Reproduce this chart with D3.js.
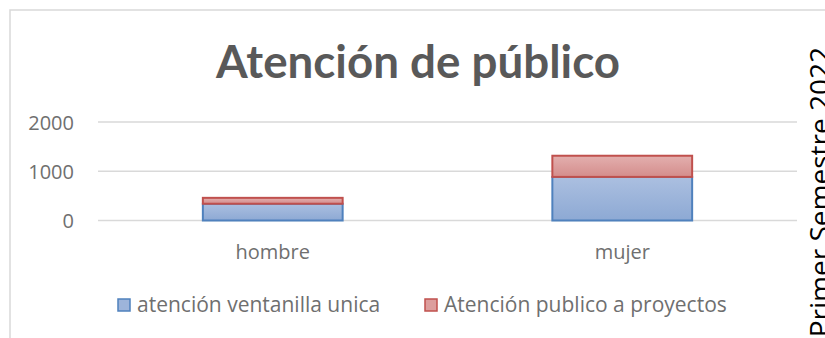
<!DOCTYPE html>
<html>
<head>
<meta charset="utf-8">
<script src="https://cdn.jsdelivr.net/npm/d3@7"></script>
<style>
  html, body { margin: 0; padding: 0; background: #fff; }
  svg { display: block; }
</style>
</head>
<body>
<svg id="chart" width="825" height="338"></svg>
<script>
// Data
const categories = ["hombre", "mujer"];
const seriesNames = ["atención ventanilla unica", "Atención publico a proyectos"];
const ventanilla = [340, 885];
const proyectos = [120, 430];
const yTicks = [0, 1000, 2000];
const title = "Atención de público";
const sideLabel = "Primer Semestre 2022";

const svg = d3.select("#chart");
const W = 825, H = 338;

// Chart frame
svg.append("path")
  .attr("d", `M10,${H + 2} L10,10 L${W + 2},10`)
  .attr("fill", "none")
  .attr("stroke", "#d9d9d9")
  .attr("stroke-width", 1.5);

// Gradients for the bar fills
const defs = svg.append("defs");
function grad(id, top, bottom) {
  const g = defs.append("linearGradient").attr("id", id)
    .attr("x1", 0).attr("y1", 0).attr("x2", 0).attr("y2", 1);
  g.append("stop").attr("offset", "0%").attr("stop-color", top);
  g.append("stop").attr("offset", "100%").attr("stop-color", bottom);
}
grad("gBlue", "#abbfe0", "#8da9d4");
grad("gRed", "#e3afae", "#d48d8c");

const seriesStyle = [
  { fill: "url(#gBlue)", stroke: "#4f81bd", legendFill: "#9db4da" },
  { fill: "url(#gRed)", stroke: "#c0504d", legendFill: "#dc9e9d" }
];

// Scales
const x = d3.scaleBand().domain(categories).range([98, 797]).padding(0);
const y = d3.scaleLinear().domain([0, 2000]).range([220.5, 122]);

// Gridlines
svg.append("g").selectAll("line").data(yTicks).join("line")
  .attr("x1", 98).attr("x2", 797)
  .attr("y1", d => y(d)).attr("y2", d => y(d))
  .attr("stroke", "#d9d9d9").attr("stroke-width", 1.5);

// Y axis labels
const yAxis = d3.axisLeft(y).tickValues(yTicks).tickSize(0).tickPadding(0).tickFormat(d3.format("d"));
const yg = svg.append("g").attr("transform", "translate(74,0)").call(yAxis);
yg.select(".domain").remove();
yg.selectAll("text")
  .attr("font-family", "'Open Sans', sans-serif")
  .attr("font-size", 20)
  .attr("fill", "#6f6f6f")
  .attr("dy", "0.35em");

// X axis labels
const xAxis = d3.axisBottom(x).tickSize(0).tickPadding(0);
const xg = svg.append("g").attr("transform", "translate(0,252)").call(xAxis);
xg.select(".domain").remove();
xg.selectAll("text")
  .attr("font-family", "'Open Sans', sans-serif")
  .attr("font-size", 20)
  .attr("fill", "#6f6f6f")
  .attr("dy", "0.35em")
  .attr("y", 0);

// Stacked bars
const rows = categories.map((c, i) => ({ cat: c, v0: ventanilla[i], v1: proyectos[i] }));
const stack = d3.stack().keys(["v0", "v1"])(rows);
const barW = x.bandwidth() * 0.4;

stack.forEach((layer, si) => {
  svg.append("g").selectAll("rect").data(layer).join("rect")
    .attr("x", d => x(d.data.cat) + (x.bandwidth() - barW) / 2)
    .attr("width", barW)
    .attr("y", d => y(d[1]))
    .attr("height", d => y(d[0]) - y(d[1]))
    .attr("fill", seriesStyle[si].fill)
    .attr("stroke", seriesStyle[si].stroke)
    .attr("stroke-width", 2);
});

// Title
svg.append("text")
  .attr("x", 418).attr("y", 78)
  .attr("text-anchor", "middle")
  .attr("font-family", "Lato, 'Open Sans', sans-serif")
  .attr("font-weight", "bold")
  .attr("font-size", 46)
  .attr("textLength", 404)
  .attr("lengthAdjust", "spacingAndGlyphs")
  .attr("fill", "#595959")
  .text(title);

// Legend
const legendX = [118, 425];
const lg = svg.append("g");
seriesNames.forEach((name, i) => {
  lg.append("rect")
    .attr("x", legendX[i]).attr("y", 299)
    .attr("width", 12).attr("height", 12)
    .attr("fill", seriesStyle[i].legendFill)
    .attr("stroke", seriesStyle[i].stroke)
    .attr("stroke-width", 1.5);
  lg.append("text")
    .attr("x", legendX[i] + 19).attr("y", 305)
    .attr("dy", "0.35em")
    .attr("font-family", "'Open Sans', sans-serif")
    .attr("font-size", 21)
    .attr("fill", "#6f6f6f")
    .text(name);
});

// Rotated side label
svg.append("text")
  .attr("transform", "translate(830,47) rotate(-90)")
  .attr("text-anchor", "end")
  .attr("font-family", "'Open Sans', sans-serif")
  .attr("font-size", 28)
  .attr("fill", "#000")
  .text(sideLabel);
</script>
</body>
</html>
